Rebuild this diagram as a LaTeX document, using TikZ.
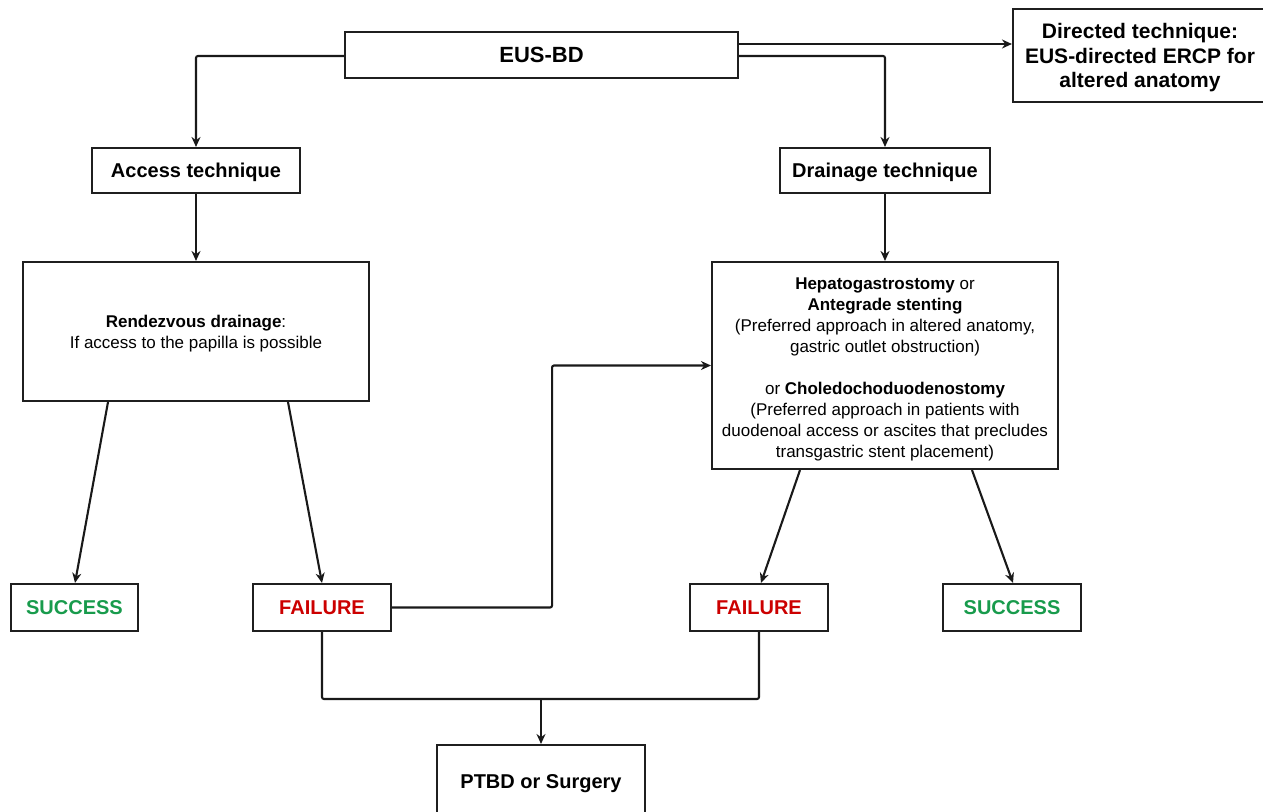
\documentclass[tikz,border=0pt]{standalone}
\usepackage{fontspec}
\setmainfont{Liberation Sans}
\usetikzlibrary{arrows.meta}
\definecolor{succ}{RGB}{24,155,76}
\definecolor{fail}{RGB}{204,0,0}
\tikzset{
  box/.style={draw=black!88, line width=2.1pt, inner sep=0pt, align=center, fill=white},
  head/.style={font=\bfseries\fontsize{20}{24}\selectfont, text height=14.4pt, text depth=0pt},
  small/.style={font=\fontsize{17}{21}\selectfont},
  conn/.style={line width=2.1pt, draw=black!90, rounded corners=2pt},
  arr/.style={conn, -{Stealth[length=10pt,width=9pt]}}
}
\begin{document}
\begin{tikzpicture}[x=1pt,y=-1pt]
\useasboundingbox (0,0) rectangle (1263,811);
\clip (0,0) rectangle (1263,811);
\fill[white] (0,0) rectangle (1263,811);

\node[box, minimum width=393pt, minimum height=46pt, font=\bfseries\fontsize{22}{26}\selectfont, text height=15.8pt, text depth=0pt] (eus) at (541.5,55) {EUS-BD};
\node[box, minimum width=254pt, minimum height=93pt, font=\bfseries\fontsize{21}{24.5}\selectfont] (dir) at (1140,55.5) {\rule{0pt}{20pt}Directed technique:\\EUS-directed ERCP for\\altered anatomy};
\node[box, head, minimum width=208pt, minimum height=45pt] (acc) at (196,170.5) {Access technique};
\node[box, head, minimum width=210pt, minimum height=45pt] (drn) at (885,170.5) {Drainage technique};
\node[box, small, minimum width=346pt, minimum height=139pt] (rdv) at (196,331.5) {\rule{0pt}{17.5pt}\textbf{Rendezvous drainage}:\\If access to the papilla is possible};
\node[box, small, minimum width=346pt, minimum height=207pt] (hep) at (885,365.5) {\rule{0pt}{20.5pt}\textbf{Hepatogastrostomy} or\\\textbf{Antegrade stenting}\\(Preferred approach in altered anatomy,\\gastric outlet obstruction)\\[21pt]or \textbf{Choledochoduodenostomy}\\(Preferred approach in patients with\\duodenoal access or ascites that precludes\\transgastric stent placement)};
\node[box, head, text=succ, minimum width=127pt, minimum height=47pt] (s1) at (74.5,607.5) {SUCCESS};
\node[box, head, text=fail, minimum width=138pt, minimum height=47pt] (f1) at (322,607.5) {FAILURE};
\node[box, head, text=fail, minimum width=138pt, minimum height=47pt] (f2) at (759,607.5) {FAILURE};
\node[box, head, text=succ, minimum width=138pt, minimum height=47pt] (s2) at (1012,607.5) {SUCCESS};
\node[box, head, minimum width=208pt, minimum height=72pt] (pt) at (541,781) {PTBD or Surgery};

\coordinate (e1) at ([yshift=11pt]eus.east);
\coordinate (e2) at ([yshift=-1pt]eus.east);
\coordinate (w2) at ([yshift=-1pt]eus.west);
\draw[arr] (e1) -- (e1 -| dir.west);
\draw[arr] (e2) -| (drn.north);
\draw[arr] (w2) -| (acc.north);
\draw[arr] (acc.south) -- (rdv.north);
\draw[arr] (drn.south) -- (hep.north);
\draw[arr] ([xshift=-88pt]rdv.south) -- ([xshift=0.5pt]s1.north);
\draw[arr] ([xshift=92pt]rdv.south) -- (f1.north);
\draw[arr] ([xshift=-85pt]hep.south) -- ([xshift=2pt]f2.north);
\draw[arr] ([xshift=87pt]hep.south) -- ([xshift=1pt]s2.north);
\draw[arr] (f1.east) -- ++(160,0) |- (hep.west);
\coordinate (j) at (541,699);
\draw[conn] (f1.south) |- (j) -| (f2.south);
\draw[arr] (j) -- (pt.north);
\end{tikzpicture}
\end{document}
